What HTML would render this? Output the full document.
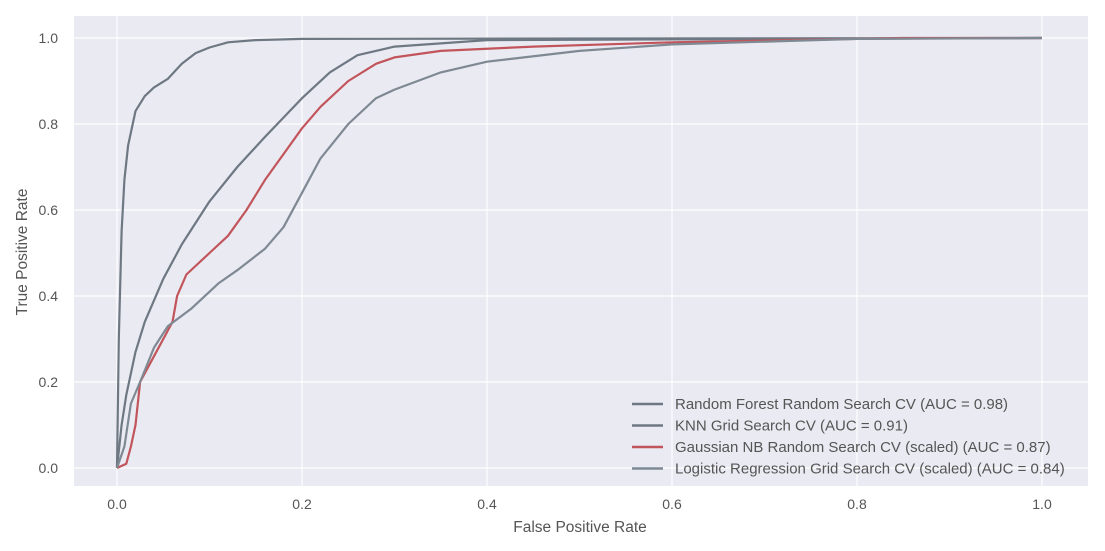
<!DOCTYPE html>
<html><head><meta charset="utf-8"><style>
body{margin:0;background:#fff;}
svg{display:block;font-family:"Liberation Sans",sans-serif;}
</style></head><body>
<svg id="chart" width="1105" height="551"></svg>
<script>
const xTicks=[0,0.2,0.4,0.6,0.8,1.0];
const yTicks=[0,0.2,0.4,0.6,0.8,1.0];
const seriesNames=["Random Forest Random Search CV (AUC = 0.98)","KNN Grid Search CV (AUC = 0.91)","Gaussian NB Random Search CV (scaled) (AUC = 0.87)","Logistic Regression Grid Search CV (scaled) (AUC = 0.84)"];
const rfFpr=[0,0.002,0.005,0.008,0.012,0.02,0.03,0.04,0.055,0.07,0.085,0.1,0.12,0.15,0.2,1];
const rfTpr=[0,0.3,0.55,0.67,0.75,0.83,0.865,0.885,0.905,0.94,0.965,0.978,0.99,0.995,0.998,1];
const knnFpr=[0,0.005,0.01,0.02,0.03,0.05,0.07,0.1,0.13,0.16,0.2,0.23,0.26,0.3,0.4,1];
const knnTpr=[0,0.1,0.17,0.27,0.34,0.44,0.52,0.62,0.7,0.77,0.86,0.92,0.96,0.98,0.995,1];
const gnbFpr=[0,0.01,0.015,0.02,0.025,0.04,0.05,0.06,0.065,0.075,0.1,0.12,0.14,0.16,0.18,0.2,0.22,0.25,0.28,0.3,0.35,0.45,0.6,0.85,1];
const gnbTpr=[0,0.01,0.05,0.1,0.2,0.26,0.3,0.34,0.4,0.45,0.5,0.54,0.6,0.67,0.73,0.79,0.84,0.9,0.94,0.955,0.97,0.98,0.99,1,1];
const lrFpr=[0,0.008,0.015,0.025,0.04,0.055,0.08,0.11,0.13,0.16,0.18,0.2,0.22,0.25,0.28,0.3,0.35,0.4,0.5,0.6,0.8,1];
const lrTpr=[0,0.05,0.15,0.2,0.28,0.33,0.37,0.43,0.46,0.51,0.56,0.64,0.72,0.8,0.86,0.88,0.92,0.945,0.97,0.985,0.998,1];

const NS="http://www.w3.org/2000/svg";
const svg=document.getElementById('chart');
function X(v){return 117+v*925;}
function Y(v){return 468-v*430;}
function mk(t,a,p){const e=document.createElementNS(NS,t);for(const k in a)e.setAttribute(k,a[k]);(p||svg).appendChild(e);return e;}
const bg=mk('rect',{x:74,y:16,width:1014,height:470,fill:'#eaeaf2'});


xTicks.forEach(t=>{
  const l=mk('line',{x1:X(t),x2:X(t),y1:16,y2:486,stroke:'#fff','stroke-width':1.2});
  
  
  const tx=mk('text',{x:X(t),y:509,'text-anchor':'middle','font-size':14,fill:'#555'});
  tx.textContent=t.toFixed(1);
  
  
});
yTicks.forEach(t=>{
  const l=mk('line',{x1:74,x2:1088,y1:Y(t),y2:Y(t),stroke:'#fff','stroke-width':1.2});
  
  
  const tx=mk('text',{x:58,y:Y(t)+5,'text-anchor':'end','font-size':14,fill:'#555'});
  tx.textContent=t.toFixed(1);
  
  
});
const xt=mk('text',{x:580,y:532,'text-anchor':'middle','font-size':15.5,fill:'#555'});
xt.textContent='False Positive Rate';


const yt=mk('text',{x:27,y:252,'text-anchor':'middle','font-size':15.5,fill:'#555',transform:'rotate(-90 27 252)'});
yt.textContent='True Positive Rate';


const series=[[rfFpr,rfTpr,'#6e7883'],[knnFpr,knnTpr,'#6e7883'],[gnbFpr,gnbTpr,'#c2555b'],[lrFpr,lrTpr,'#7f8993']];
const names=['rf-curve','knn-curve','gnb-curve','lr-curve'];
series.forEach((s,i)=>{
  const d=s[0].map((x,j)=>(j?'L':'M')+X(x).toFixed(1)+','+Y(s[1][j]).toFixed(1)).join('');
  const p=mk('path',{d:d,fill:'none',stroke:s[2],'stroke-width':2.2,'stroke-linejoin':'round'});
  
  
});
seriesNames.forEach((n,i)=>{
  const y=404+i*21.5;
  const l=mk('line',{x1:632,x2:663,y1:y,y2:y,stroke:series[i][2],'stroke-width':2.4});
  
  
  const t=mk('text',{x:675,y:y+5,'font-size':15,fill:'#555'});
  t.textContent=n;
  
  
});
</script>
</body></html>
